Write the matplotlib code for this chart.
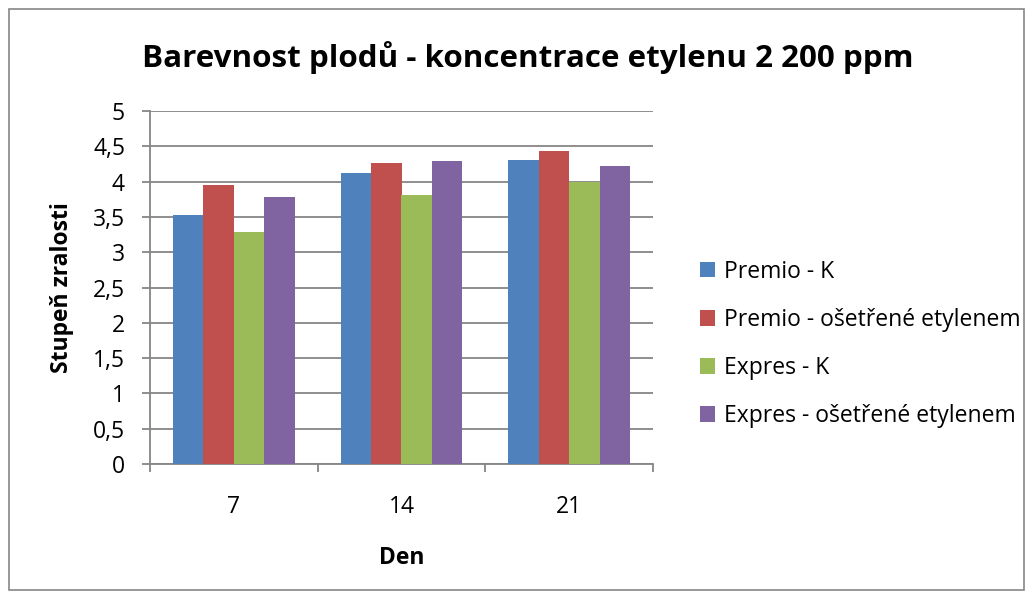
import matplotlib
matplotlib.use('Agg')
import matplotlib.pyplot as plt
from matplotlib.patches import Rectangle
import numpy as np

# --- data ---
days = ['7', '14', '21']
series = ['Premio - K', 'Premio - ošetřené etylenem', 'Expres - K', 'Expres - ošetřené etylenem']
premio_k = [3.53, 4.12, 4.30]
premio_et = [3.95, 4.27, 4.44]
expres_k = [3.28, 3.81, 4.00]
expres_et = [3.78, 4.29, 4.22]
values = [premio_k, premio_et, expres_k, expres_et]
colors = ['#4F81BD', '#C0504D', '#9BBB59', '#8064A2']
yticks = [0, 0.5, 1, 1.5, 2, 2.5, 3, 3.5, 4, 4.5, 5]
ytick_labels = ['0', '0,5', '1', '1,5', '2', '2,5', '3', '3,5', '4', '4,5', '5']

plt.rcParams['font.family'] = ['Open Sans', 'DejaVu Sans']
grid_c = '#868686'
fs = 16.5

fig = plt.figure(figsize=(10.33, 6), dpi=100)
fig.patches.append(Rectangle((0.009, 0.017), 0.982, 0.968, transform=fig.transFigure,
                             fill=False, edgecolor='#868686', lw=1.2))
ax = fig.add_axes([150/1033, 1-464/600, 503/1033, 353/600])

x = np.arange(len(days))
bw = 1/5.5
for i, (vals, name, c) in enumerate(zip(values, series, colors)):
    ax.bar(x + (i - 1.5)*bw, vals, bw, color=c, label=name, zorder=3)

ax.set_xlim(-0.5, 2.5)
ax.set_ylim(0, 5)
ax.set_yticks(yticks)
ax.set_yticklabels(ytick_labels, fontsize=fs)
ax.yaxis.grid(True, color=grid_c, lw=1.3, zorder=0)
ax.set_xticks([-0.5, 0.5, 1.5, 2.5])
ax.set_xticklabels([])
ax.set_xticks(x, minor=True)
ax.set_xticklabels(days, minor=True, fontsize=fs)
ax.tick_params(axis='x', which='minor', length=0, pad=22)
ax.tick_params(axis='x', which='major', length=6, color=grid_c, width=1.3)
ax.tick_params(axis='y', length=6, color=grid_c, width=1.3, pad=12)
for s in ['top', 'right']:
    ax.spines[s].set_visible(False)
for s in ['left', 'bottom']:
    ax.spines[s].set_color(grid_c)
    ax.spines[s].set_linewidth(1.3)

ax.set_xlabel('Den', fontsize=fs, fontweight='bold')
ax.xaxis.set_label_coords(0.5, (464-558)/353)
ax.xaxis.label.set_va('center')
ax.set_ylabel('Stupeň zralosti', fontsize=fs, fontweight='bold')
ax.yaxis.set_label_coords((62-150)/503, 0.5)
ax.yaxis.label.set_va('center')
fig.text(528/1033, 1-58/600, 'Barevnost plodů - koncentrace etylenu 2 200 ppm',
         ha='center', va='center', fontsize=22.6, fontweight='bold')

ax.legend(loc='center left', bbox_to_anchor=(1.075, 0.34), frameon=False, fontsize=fs,
          handlelength=0.65, handleheight=0.65, handletextpad=0.4, labelspacing=1.05,
          borderaxespad=0)

plt.savefig('out.png', dpi=100)
